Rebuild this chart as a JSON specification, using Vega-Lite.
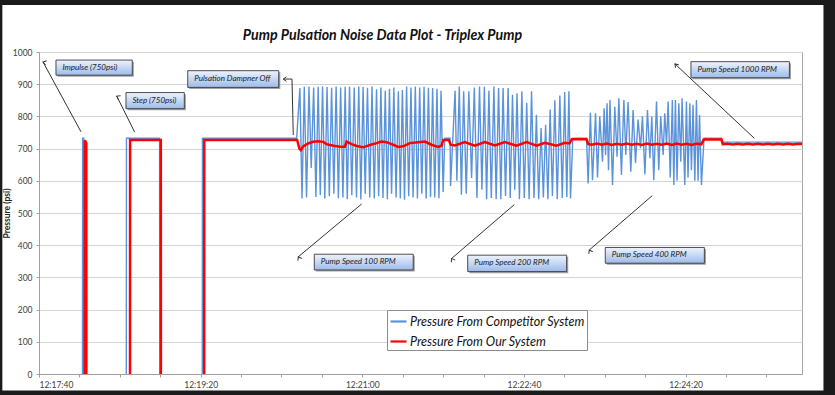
{
  "$schema": "https://vega.github.io/schema/vega-lite/v6.json",
  "autosize": "none",
  "width": 763,
  "height": 322,
  "padding": {"left": 39, "top": 52, "right": 33, "bottom": 21},
  "background": "white",
  "title": {"text": "Pump Pulsation Noise Data Plot - Triplex Pump", "font": "Lato", "fontSize": 14.2, "fontWeight": "bold", "fontStyle": "italic", "color": "#111111", "anchor": "middle", "frame": "group", "baseline": "alphabetic", "dx": -38, "dy": 73, "offset": 0},
  "datasets": {
    "competitor": [
      {"sec":26.9,"psi":0,"run":1},{"sec":27.0,"psi":732,"run":1},{"sec":27.7,"psi":732,"run":1},{"sec":27.8,"psi":0,"run":1},
      {"sec":54.0,"psi":0,"run":2},{"sec":54.1,"psi":732,"run":2},{"sec":74.6,"psi":732,"run":2},{"sec":74.7,"psi":0,"run":2},
      {"sec":101.0,"psi":0},{"sec":101.1,"psi":732},{"sec":159.4,"psi":732},
      {"sec":161.4,"psi":888},{"sec":162.7,"psi":545},{"sec":164.1,"psi":892},{"sec":165.5,"psi":548},{"sec":167.0,"psi":893},{"sec":168.4,"psi":640},
      {"sec":169.9,"psi":890},{"sec":171.3,"psi":550},{"sec":172.7,"psi":892},{"sec":174.0,"psi":556},{"sec":175.4,"psi":893},{"sec":176.8,"psi":545},
      {"sec":178.2,"psi":891},{"sec":179.6,"psi":552},{"sec":181.0,"psi":889},{"sec":182.4,"psi":560},{"sec":183.8,"psi":893},{"sec":185.2,"psi":546},
      {"sec":186.6,"psi":890},{"sec":188.0,"psi":548},{"sec":189.4,"psi":892},{"sec":190.7,"psi":543},{"sec":192.1,"psi":892},{"sec":193.5,"psi":555},
      {"sec":195.0,"psi":890},{"sec":196.4,"psi":548},{"sec":197.8,"psi":893},{"sec":199.1,"psi":542},{"sec":200.5,"psi":891},{"sec":201.8,"psi":560},
      {"sec":203.2,"psi":889},{"sec":204.6,"psi":548},{"sec":206.0,"psi":893},{"sec":207.4,"psi":545},{"sec":208.8,"psi":884},{"sec":210.1,"psi":552},
      {"sec":211.5,"psi":890},{"sec":212.8,"psi":547},{"sec":214.2,"psi":880},{"sec":215.5,"psi":543},{"sec":216.8,"psi":886},{"sec":218.1,"psi":560},
      {"sec":219.5,"psi":890},{"sec":220.9,"psi":548},{"sec":222.3,"psi":878},{"sec":223.5,"psi":545},{"sec":224.8,"psi":882},{"sec":226.1,"psi":541},
      {"sec":227.4,"psi":893},{"sec":228.7,"psi":552},{"sec":230.1,"psi":890},{"sec":231.4,"psi":548},{"sec":232.8,"psi":893},{"sec":234.1,"psi":545},
      {"sec":235.5,"psi":890},{"sec":236.8,"psi":560},{"sec":238.2,"psi":892},{"sec":239.5,"psi":545},{"sec":240.9,"psi":889},{"sec":242.2,"psi":550},
      {"sec":243.5,"psi":888},{"sec":244.8,"psi":548},{"sec":246.2,"psi":886},{"sec":247.4,"psi":546},{"sec":248.7,"psi":880},{"sec":250.0,"psi":565},
      {"sec":251.0,"psi":732},{"sec":254.3,"psi":732},
      {"sec":254.6,"psi":584},{"sec":257.4,"psi":880},{"sec":258.5,"psi":600},{"sec":260.0,"psi":893},{"sec":261.3,"psi":557},{"sec":262.7,"psi":878},
      {"sec":264.3,"psi":560},{"sec":265.9,"psi":878},{"sec":267.6,"psi":609},{"sec":269.3,"psi":890},{"sec":270.9,"psi":547},{"sec":272.5,"psi":893},
      {"sec":274.0,"psi":572},{"sec":275.5,"psi":892},{"sec":276.9,"psi":543},{"sec":278.3,"psi":880},{"sec":279.8,"psi":547},{"sec":281.4,"psi":893},
      {"sec":282.8,"psi":543},{"sec":284.3,"psi":888},{"sec":285.7,"psi":543},{"sec":287.1,"psi":888},{"sec":288.6,"psi":553},{"sec":290.2,"psi":888},
      {"sec":291.5,"psi":547},{"sec":292.9,"psi":867},{"sec":294.3,"psi":572},{"sec":295.7,"psi":872},{"sec":297.2,"psi":543},{"sec":298.7,"psi":878},
      {"sec":300.2,"psi":547},{"sec":301.7,"psi":842},{"sec":303.2,"psi":543},{"sec":304.7,"psi":878},{"sec":306.2,"psi":547},{"sec":307.7,"psi":805},
      {"sec":309.1,"psi":543},{"sec":310.6,"psi":764},{"sec":312.0,"psi":548},{"sec":313.4,"psi":774},{"sec":314.8,"psi":543},{"sec":316.2,"psi":821},
      {"sec":317.6,"psi":553},{"sec":319.1,"psi":850},{"sec":320.6,"psi":543},{"sec":322.2,"psi":865},{"sec":323.7,"psi":547},{"sec":325.2,"psi":876},
      {"sec":326.5,"psi":550},{"sec":327.8,"psi":878},{"sec":328.8,"psi":545},
      {"sec":330.2,"psi":732},{"sec":338.7,"psi":732},
      {"sec":339.7,"psi":592},{"sec":341.1,"psi":811},{"sec":342.4,"psi":602},{"sec":344.3,"psi":810},{"sec":345.5,"psi":610},{"sec":346.9,"psi":800},
      {"sec":348.6,"psi":659},{"sec":349.6,"psi":825},{"sec":350.5,"psi":680},{"sec":351.4,"psi":841},{"sec":352.3,"psi":633},{"sec":353.2,"psi":851},
      {"sec":354.8,"psi":587},{"sec":356.2,"psi":830},{"sec":357.6,"psi":675},{"sec":358.7,"psi":856},{"sec":360.3,"psi":618},{"sec":361.8,"psi":851},
      {"sec":363.0,"psi":680},{"sec":364.4,"psi":845},{"sec":366.1,"psi":628},{"sec":367.5,"psi":820},{"sec":369.0,"psi":655},{"sec":370.6,"psi":790},
      {"sec":372.1,"psi":701},{"sec":373.3,"psi":800},{"sec":374.8,"psi":620},{"sec":376.4,"psi":820},{"sec":377.9,"psi":670},{"sec":379.1,"psi":800},
      {"sec":380.3,"psi":602},{"sec":382.0,"psi":846},{"sec":383.4,"psi":633},{"sec":384.6,"psi":800},{"sec":386.1,"psi":680},{"sec":387.1,"psi":810},
      {"sec":388.2,"psi":711},{"sec":389.2,"psi":846},{"sec":390.5,"psi":610},{"sec":391.8,"psi":851},{"sec":392.7,"psi":587},{"sec":393.7,"psi":851},
      {"sec":394.7,"psi":600},{"sec":395.8,"psi":841},{"sec":397.0,"psi":659},{"sec":397.8,"psi":856},{"sec":399.5,"psi":587},{"sec":400.5,"psi":846},
      {"sec":401.5,"psi":610},{"sec":402.6,"psi":841},{"sec":403.6,"psi":633},{"sec":404.6,"psi":836},{"sec":405.7,"psi":600},{"sec":406.7,"psi":851},
      {"sec":407.7,"psi":600},{"sec":408.6,"psi":804},{"sec":409.8,"psi":587},
      {"sec":411.4,"psi":732},{"sec":422.2,"psi":732},{"sec":422.7,"psi":720},{"sec":472,"psi":720}
    ],
    "ours": [
      {"sec":28.3,"psi":0,"run":1},{"sec":28.35,"psi":726,"run":1},{"sec":29.25,"psi":717,"run":1},{"sec":29.3,"psi":0,"run":1},
      {"sec":56.3,"psi":0,"run":2},{"sec":56.35,"psi":727,"run":2},{"sec":75.35,"psi":727,"run":2},{"sec":75.4,"psi":0,"run":2},
      {"sec":102.2,"psi":0},{"sec":102.25,"psi":727},{"sec":159.7,"psi":727},
      {"sec":161.1,"psi":700},{"sec":162.0,"psi":695},{"sec":163.4,"psi":707},{"sec":166.5,"psi":716},{"sec":169.6,"psi":721},{"sec":172.7,"psi":723},
      {"sec":175.8,"psi":721},{"sec":177.9,"psi":714},{"sec":180.0,"psi":711},{"sec":183.1,"psi":708},{"sec":186.1,"psi":706},{"sec":189.2,"psi":706},
      {"sec":190.3,"psi":722},{"sec":193.4,"psi":714},{"sec":196.5,"psi":708},{"sec":200.5,"psi":704},{"sec":204.7,"psi":711},{"sec":208.8,"psi":717},
      {"sec":211.9,"psi":722},{"sec":215.0,"psi":720},{"sec":219.1,"psi":712},{"sec":222.2,"psi":705},{"sec":225.3,"psi":707},{"sec":229.4,"psi":717},
      {"sec":234.6,"psi":720},{"sec":238.7,"psi":722},{"sec":242.8,"psi":712},{"sec":246.9,"psi":705},{"sec":249.0,"psi":709},{"sec":250.1,"psi":727},
      {"sec":253.5,"psi":727},{"sec":254.6,"psi":712},{"sec":257.3,"psi":710},{"sec":263.4,"psi":720},{"sec":269.6,"psi":709},{"sec":275.8,"psi":720},
      {"sec":282.0,"psi":710},{"sec":288.2,"psi":720},{"sec":295.4,"psi":709},{"sec":301.6,"psi":720},{"sec":307.8,"psi":709},{"sec":312.9,"psi":718},
      {"sec":320.1,"psi":709},{"sec":325.3,"psi":718},{"sec":328.1,"psi":716},{"sec":329.6,"psi":729},{"sec":338.7,"psi":729},{"sec":339.8,"psi":714},
      {"sec":342.0,"psi":712},{"sec":345.1,"psi":716},{"sec":348.2,"psi":712},{"sec":351.3,"psi":716},{"sec":354.3,"psi":711},{"sec":357.4,"psi":715},
      {"sec":360.5,"psi":712},{"sec":363.6,"psi":716},{"sec":366.7,"psi":712},{"sec":369.8,"psi":715},{"sec":372.9,"psi":711},{"sec":376.0,"psi":716},
      {"sec":379.1,"psi":712},{"sec":382.2,"psi":715},{"sec":385.3,"psi":712},{"sec":388.4,"psi":716},{"sec":391.5,"psi":711},{"sec":394.5,"psi":716},
      {"sec":397.6,"psi":712},{"sec":400.7,"psi":715},{"sec":403.8,"psi":711},{"sec":406.9,"psi":716},{"sec":409.7,"psi":713},{"sec":411.2,"psi":728},
      {"sec":422.2,"psi":728},{"sec":423.0,"psi":714},{"sec":426.1,"psi":715},{"sec":429.2,"psi":713},{"sec":432.3,"psi":715},{"sec":435.4,"psi":713},
      {"sec":438.5,"psi":715},{"sec":441.6,"psi":713},{"sec":444.7,"psi":715},{"sec":447.8,"psi":713},{"sec":450.9,"psi":715},{"sec":454.0,"psi":713},
      {"sec":457.1,"psi":715},{"sec":460.2,"psi":713},{"sec":463.3,"psi":715},{"sec":466.4,"psi":713},{"sec":469.5,"psi":715},{"sec":472,"psi":714}
    ],
    "callouts": [
      {"label":"Impulse (750psi)","s0":10.5,"s1":57.7,"p0":928,"p1":975},
      {"label":"Step (750psi)","s0":53.8,"s1":89.9,"p0":824,"p1":874},
      {"label":"Pulsation Dampner Off","s0":92.0,"s1":148.3,"p0":890,"p1":942},
      {"label":"Pump Speed 1000 RPM","s0":403.3,"s1":464.2,"p0":920,"p1":970},
      {"label":"Pump Speed 100 RPM","s0":170.3,"s1":231.5,"p0":323,"p1":372},
      {"label":"Pump Speed 200 RPM","s0":265.2,"s1":326.4,"p0":318,"p1":369},
      {"label":"Pump Speed 400 RPM","s0":350.3,"s1":411.6,"p0":344,"p1":393}
    ],
    "leaders": [
      {"s":2.5,"p":969,"s2":26.0,"p2":752},
      {"s":48.1,"p":863,"s2":59.2,"p2":751},
      {"s":151.1,"p":916,"s2":156.5,"p2":916},
      {"s":156.5,"p":916,"s2":157.3,"p2":742},
      {"s":393.4,"p":963,"s2":442.5,"p2":732},
      {"s":160.4,"p":364,"s2":199.6,"p2":528},
      {"s":255.3,"p":359,"s2":294.0,"p2":526},
      {"s":340.4,"p":385,"s2":379.4,"p2":554}
    ],
    "heads": [
      {"s":2.5,"p":969,"dir":"se1"},
      {"s":48.1,"p":863,"dir":"se2"},
      {"s":151.1,"p":916,"dir":"e"},
      {"s":393.4,"p":963,"dir":"se3"},
      {"s":160.4,"p":364,"dir":"ne"},
      {"s":255.3,"p":359,"dir":"ne"},
      {"s":340.4,"p":385,"dir":"ne"}
    ]
  },
  "layer": [
    {
      "data": {"name": "competitor"},
      "mark": {"type": "line", "strokeWidth": 1.4, "interpolate": "linear"},
      "encoding": {
        "x": {"field": "sec", "type": "quantitative", "scale": {"domain": [0, 472], "nice": false, "zero": false},
          "axis": {"title": null, "values": [0,25,50,75,100,125,150,175,200,225,250,275,300,325,350,375,400,425,450], "tickCount": 40, "labelOverlap": false,
            "labelExpr": "datum.value % 100 == 0 ? utcFormat((44260 + datum.value) * 1000, '%H:%M:%S') : ''"}},
        "y": {"field": "psi", "type": "quantitative", "scale": {"domain": [0, 1000], "nice": false},
          "axis": {"title": "Pressure (psi)", "values": [0,100,200,300,400,500,600,700,800,900,1000], "tickCount": 20, "format": "d", "labelOverlap": false, "grid": true}},
        "detail": {"field": "run", "type": "nominal"},
        "color": {"datum": "Pressure From Competitor System", "type": "nominal",
          "scale": {"domain": ["Pressure From Competitor System", "Pressure From Our System"], "range": ["#5b93db", "#ff0000"]},
          "legend": {"orient": "none", "legendX": 348, "legendY": 258, "title": null}}
      }
    },
    {
      "data": {"name": "ours"},
      "mark": {"type": "line", "strokeWidth": 2.5, "interpolate": "linear"},
      "encoding": {
        "x": {"field": "sec", "type": "quantitative",
          "axis": {"title": null, "values": [0,25,50,75,100,125,150,175,200,225,250,275,300,325,350,375,400,425,450], "tickCount": 40, "labelOverlap": false,
            "labelExpr": "datum.value % 100 == 0 ? utcFormat((44260 + datum.value) * 1000, '%H:%M:%S') : ''"}},
        "y": {"field": "psi", "type": "quantitative",
          "axis": {"title": "Pressure (psi)", "values": [0,100,200,300,400,500,600,700,800,900,1000], "tickCount": 20, "format": "d", "labelOverlap": false, "grid": true}},
        "detail": {"field": "run", "type": "nominal"},
        "color": {"datum": "Pressure From Our System", "type": "nominal"}
      }
    },
    {
      "data": {"name": "callouts"},
      "mark": {"type": "rect", "fill": "#555555", "opacity": 0.55, "xOffset": 1.6, "yOffset": 1.6, "x2Offset": 1.6, "y2Offset": 1.6},
      "encoding": {
        "x": {"field": "s0", "type": "quantitative"}, "x2": {"field": "s1"},
        "y": {"field": "p0", "type": "quantitative"}, "y2": {"field": "p1"}
      }
    },
    {
      "data": {"name": "callouts"},
      "mark": {"type": "rect", "stroke": "#3a3a3a", "strokeWidth": 0.9,
        "fill": {"gradient": "linear", "x1": 0, "y1": 0, "x2": 0, "y2": 1, "stops": [{"offset": 0, "color": "#eef3fd"}, {"offset": 1, "color": "#9dbbea"}]}},
      "encoding": {
        "x": {"field": "s0", "type": "quantitative"}, "x2": {"field": "s1"},
        "y": {"field": "p0", "type": "quantitative"}, "y2": {"field": "p1"}
      }
    },
    {
      "data": {"name": "callouts"},
      "mark": {"type": "text", "font": "Lato", "fontSize": 8, "fontStyle": "italic", "color": "#1a1a1a", "align": "left", "baseline": "middle", "dx": 6.5, "dy": 8},
      "encoding": {
        "x": {"field": "s0", "type": "quantitative"},
        "y": {"field": "p1", "type": "quantitative"},
        "text": {"field": "label"}
      }
    },
    {
      "data": {"name": "leaders"},
      "mark": {"type": "rule", "stroke": "#333333", "strokeWidth": 1},
      "encoding": {
        "x": {"field": "s", "type": "quantitative"}, "x2": {"field": "s2"},
        "y": {"field": "p", "type": "quantitative"}, "y2": {"field": "p2"}
      }
    },
    {
      "data": {"name": "heads"},
      "mark": {"type": "point", "shape": "M1,-0.7L0,0L1,0.7", "filled": false, "stroke": "#333333", "strokeWidth": 1, "size": 40, "opacity": 1},
      "encoding": {
        "x": {"field": "s", "type": "quantitative"},
        "y": {"field": "p", "type": "quantitative"},
        "angle": {"field": "dir", "type": "nominal", "scale": {"domain": ["e", "se1", "se2", "se3", "ne"], "range": [0, 61.5, 63.6, 43.1, 320]}, "legend": null}
      }
    },
    {
      "data": {"values": [{}]},
      "mark": {"type": "rect", "fillOpacity": 0, "stroke": "#1b1b1b", "strokeWidth": 24, "clip": false},
      "encoding": {
        "x": {"datum": -30.1, "type": "quantitative"}, "x2": {"datum": 492.7},
        "y": {"datum": 1183, "type": "quantitative"}, "y2": {"datum": -88.5}
      }
    }
  ],
  "config": {
    "font": "Lato",
    "view": {"stroke": "#a6a6a6", "strokeWidth": 1},
    "axis": {"domainColor": "#a0a0a0", "tickColor": "#a0a0a0", "tickSize": 3, "labelFont": "Lato", "labelFontSize": 8.5, "labelColor": "#404040", "gridColor": "#d4d4d4", "gridWidth": 1},
    "axisX": {"grid": false, "labelPadding": 3},
    "axisY": {"labelPadding": 4, "titleFont": "Lato", "titleFontSize": 8.5, "titleFontWeight": "bold", "titleColor": "#222222", "titlePadding": 0.5},
    "legend": {"labelFont": "Lato", "labelFontSize": 12.5, "labelFontStyle": "italic", "labelColor": "#111111", "symbolType": "stroke", "symbolSize": 256, "symbolStrokeWidth": 2.2, "fillColor": "white", "strokeColor": "#8c8c8c", "padding": 2, "rowPadding": 4, "labelOffset": 2, "labelLimit": 400}
  }
}
